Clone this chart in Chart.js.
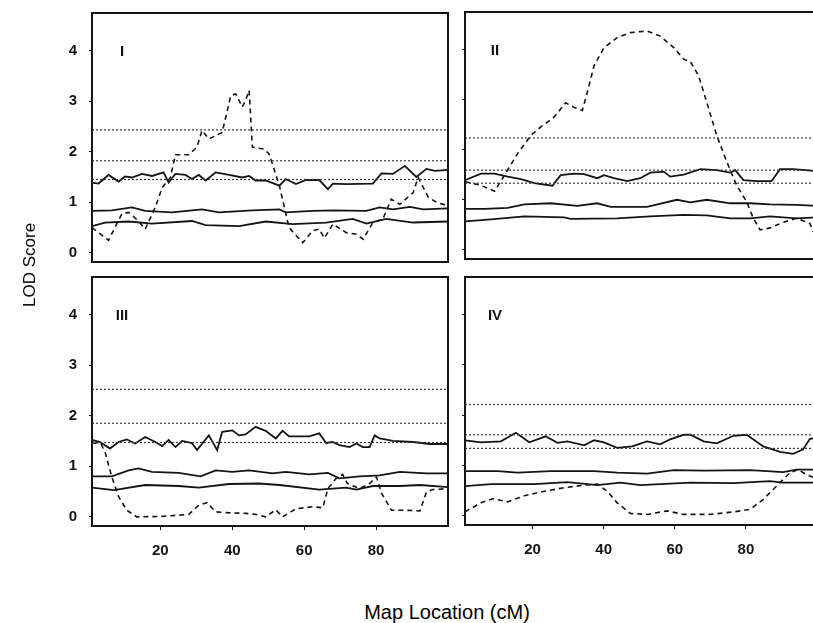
<!DOCTYPE html>
<html>
<head>
<script src="https://cdn.jsdelivr.net/npm/chart.js"></script>
<style>
  body { margin: 0; width: 813px; height: 623px; overflow: hidden; background: #fff; position: relative;
         font-family: "Liberation Sans", Arial, sans-serif; color: #000; }
  canvas { position: absolute; }
  #ytitle { position: absolute; left: 30px; top: 265px; transform: translate(-50%, -50%) rotate(-90deg);
            font-size: 17px; white-space: nowrap; }
  #xtitle { position: absolute; left: 447px; top: 612px; transform: translate(-50%, -50%);
            font-size: 20px; white-space: nowrap; }
</style>
</head>
<body>
<canvas id="p1" width="450" height="263" style="left:0;top:0"></canvas>
<canvas id="p2" width="360" height="263" style="left:459px;top:0"></canvas>
<canvas id="p3" width="450" height="295" style="left:0;top:265px"></canvas>
<canvas id="p4" width="360" height="295" style="left:459px;top:265px"></canvas>
<div id="ytitle">LOD Score</div>
<div id="xtitle">Map Location (cM)</div>

<script>
// tick labels
const yTicks = [0, 1, 2, 3, 4];
const xTicks = [20, 40, 60, 80];

// --- region I ---
const lodI = [[1,0.50],[5.6,0.25],[9.3,0.77],[11.2,0.80],[13.9,0.63],[15.8,0.47],[18.6,0.90],[20.5,1.29],[22.8,1.49],[24.2,1.94],[27.9,1.94],[30.2,2.09],[31.6,2.42],[33.5,2.25],[37.2,2.38],[39.6,3.11],[41.0,3.14],[42.8,2.88],[43.7,3.01],[44.7,3.21],[45.6,2.09],[48.9,2.05],[50.3,1.95],[53.1,1.33],[55.8,0.50],[59.6,0.20],[62.4,0.44],[64.2,0.47],[65.6,0.29],[68.0,0.57],[71.7,0.40],[74.5,0.37],[76.4,0.27],[79.1,0.60],[81.9,0.67],[84.2,1.06],[86.6,0.96],[90.3,1.19],[91.7,1.49],[94.5,1.10],[96.8,1.00],[100,0.93]];
const highI = [[1,1.39],[2.8,1.37],[5.6,1.54],[8.4,1.41],[10.2,1.51],[12.1,1.49],[14.9,1.56],[17.7,1.52],[20.9,1.59],[22.3,1.39],[24.2,1.56],[27.0,1.54],[28.8,1.46],[30.7,1.54],[32.6,1.43],[35.4,1.59],[39.1,1.54],[42.8,1.49],[44.7,1.52],[46.5,1.43],[49.3,1.43],[53.1,1.33],[54.9,1.46],[57.7,1.36],[60.5,1.44],[64.2,1.44],[66.6,1.26],[68.0,1.37],[71.7,1.36],[79.1,1.37],[81.5,1.57],[84.7,1.56],[88.0,1.72],[91.2,1.50],[94.0,1.66],[96.4,1.62],[100,1.64]];
const midI = [[1,0.83],[6.5,0.84],[12.1,0.90],[15.8,0.83],[23.3,0.80],[31.6,0.86],[36.3,0.80],[45.6,0.84],[53.1,0.86],[54.9,0.80],[62.4,0.83],[68,0.84],[77.3,0.83],[81,0.90],[84.7,0.86],[89.4,0.91],[93.1,0.86],[100,0.88]];
const lowI = [[1,0.53],[4.6,0.60],[11.2,0.62],[17.7,0.58],[28.8,0.63],[32.6,0.55],[41.9,0.53],[49.3,0.62],[56.8,0.57],[66.1,0.60],[73.5,0.67],[77.3,0.58],[82.8,0.67],[90.3,0.60],[100,0.62]];
const threshI = [2.43, 1.82, 1.45];

// --- region II ---
const lodII = [[1,1.36],[5.5,1.29],[9.3,1.17],[12.1,1.49],[15.8,1.92],[19.5,2.28],[22.3,2.45],[26.1,2.65],[29.3,2.93],[31.7,2.84],[34.0,2.78],[35.4,3.14],[37.3,3.67],[40.1,4.03],[43.8,4.23],[47.5,4.33],[52.2,4.36],[55.9,4.26],[59.7,4.03],[62.5,3.80],[64.4,3.75],[66.7,3.47],[69.0,2.94],[71.8,2.28],[74.6,1.76],[77.4,1.29],[80.2,0.96],[82.1,0.63],[84.0,0.40],[86.8,0.44],[90.5,0.55],[94.2,0.63],[98.0,0.53],[98.9,0.37],[100,0.30]];
const highII = [[1,1.39],[5.5,1.52],[9.3,1.52],[13.0,1.46],[16.7,1.41],[20.5,1.33],[25.6,1.28],[27.9,1.49],[31.7,1.52],[34.5,1.51],[38.2,1.43],[40.1,1.49],[42.9,1.43],[46.6,1.37],[50.3,1.43],[53.1,1.54],[56.9,1.56],[58.7,1.46],[62.5,1.50],[67.2,1.61],[71.8,1.59],[75.6,1.54],[77.0,1.59],[79.3,1.39],[83.0,1.37],[87.2,1.37],[89.6,1.61],[93.3,1.61],[100,1.57]];
const midII = [[1,0.82],[6.5,0.82],[13,0.84],[17.7,0.91],[25.1,0.93],[32.6,0.88],[38.2,0.93],[42,0.86],[52.2,0.86],[60.6,1.00],[64.4,0.95],[69.0,1.00],[75.6,0.93],[81.2,0.93],[86.8,0.91],[94.2,0.90],[100,0.88]];
const lowII = [[1,0.57],[8.3,0.61],[17.7,0.67],[28.9,0.65],[30.7,0.62],[43.8,0.63],[53.1,0.67],[62.5,0.70],[69,0.69],[75.6,0.63],[81.2,0.63],[86.8,0.67],[94.2,0.63],[100,0.65]];
const threshII = [2.23, 1.59, 1.33];

// --- region III ---
const lodIII = [[1.4,1.45],[3.2,1.48],[4.6,1.29],[6.5,0.79],[8.4,0.40],[10.7,0.13],[13.5,0.00],[20.5,0.01],[24.2,0.03],[27.9,0.05],[30.7,0.23],[33.0,0.28],[35.4,0.10],[39.1,0.08],[43.7,0.07],[46.5,0.05],[49.3,0.00],[52.1,0.14],[54.0,0.00],[57.7,0.16],[62.4,0.20],[65.2,0.18],[66.6,0.56],[68.9,0.76],[70.7,0.84],[72.0,0.66],[75.4,0.56],[78.2,0.66],[80.1,0.79],[81.5,0.47],[84.3,0.13],[88.5,0.13],[92.2,0.12],[94.0,0.49],[95.8,0.54],[100,0.56]];
const highIII = [[1,1.52],[3.2,1.48],[6.0,1.35],[8.4,1.48],[10.7,1.53],[13.0,1.45],[15.8,1.58],[18.6,1.48],[20.5,1.40],[22.3,1.52],[24.2,1.38],[26.1,1.50],[28.8,1.46],[30.2,1.32],[33.5,1.61],[35.8,1.32],[37.2,1.68],[40.0,1.71],[41.9,1.61],[43.7,1.63],[46.5,1.78],[49.3,1.70],[52.1,1.55],[54.0,1.70],[55.8,1.59],[61.4,1.59],[64.2,1.65],[66.1,1.46],[67.9,1.48],[69.8,1.42],[72.6,1.38],[74.5,1.45],[76.3,1.38],[78.2,1.38],[79.6,1.61],[81.0,1.55],[84.7,1.50],[90.3,1.48],[95.0,1.44],[100,1.44]];
const midIII = [[1,0.80],[6.5,0.80],[11.2,0.92],[13.9,0.96],[17.7,0.89],[25.1,0.87],[31.2,0.80],[35.4,0.92],[40.0,0.89],[44.7,0.92],[51.2,0.86],[54.9,0.89],[61.4,0.84],[66.6,0.87],[69.8,0.76],[75.4,0.80],[81.0,0.82],[86.6,0.89],[94.0,0.86],[100,0.86]];
const lowIII = [[1,0.58],[7.1,0.53],[15.8,0.63],[25.1,0.61],[30.7,0.58],[39.1,0.65],[47.5,0.66],[53.1,0.63],[64.2,0.54],[71.7,0.58],[74.5,0.54],[79.1,0.61],[86.6,0.61],[92.2,0.63],[100,0.59]];
const threshIII = [2.52, 1.85, 1.47];

// --- region IV ---
const lodIV = [[1,0.08],[5.5,0.26],[8.8,0.34],[13.0,0.28],[17.7,0.40],[23.3,0.49],[28.9,0.56],[34.5,0.61],[38.2,0.63],[41.0,0.49],[43.8,0.26],[47.5,0.05],[52.2,0.03],[57.8,0.10],[62.5,0.03],[70.0,0.03],[76.5,0.08],[81.2,0.13],[84.9,0.33],[88.6,0.59],[92.4,0.86],[94.7,0.92],[97.0,0.82],[100,0.74]];
const highIV = [[1,1.50],[5.5,1.46],[11.1,1.48],[15.3,1.65],[19.1,1.46],[23.7,1.58],[27.0,1.45],[29.8,1.48],[34.5,1.40],[37.3,1.50],[40.1,1.46],[43.8,1.35],[48.0,1.38],[52.2,1.48],[55.9,1.42],[58.7,1.52],[62.5,1.61],[64.4,1.61],[68.1,1.48],[71.8,1.44],[76.5,1.59],[80.2,1.61],[84.9,1.38],[89.6,1.27],[93.3,1.23],[96.1,1.32],[98.0,1.53],[100,1.55]];
const midIV = [[1,0.89],[10.2,0.89],[15.8,0.86],[25.1,0.89],[37.3,0.89],[43.8,0.86],[52.2,0.84],[59.7,0.91],[68.1,0.90],[81.2,0.91],[90.5,0.87],[94.2,0.92],[100,0.92]];
const lowIV = [[1,0.59],[8.3,0.63],[20.5,0.63],[29.8,0.67],[38.2,0.61],[44.7,0.66],[50.3,0.61],[55.9,0.63],[64.4,0.66],[76.5,0.65],[86.8,0.69],[90.5,0.66],[100,0.66]];
const threshIV = [2.21, 1.61, 1.34];

const ink = '#141414';
const font = { family: '"Liberation Sans", Arial, sans-serif', size: 15, weight: 'bold' };

const toPts = arr => arr.map(p => ({ x: p[0], y: p[1] }));

function datasetsFor(lod, high, mid, low, thresh) {
  const ds = [];
  thresh.forEach(v => ds.push({
    data: [{ x: 1, y: v }, { x: 100, y: v }],
    borderColor: '#3a3a3a', borderWidth: 1.2, borderDash: [2, 2]
  }));
  [high, mid, low].forEach(s => ds.push({ data: toPts(s), borderColor: ink, borderWidth: 1.8 }));
  ds.push({ data: toPts(lod), borderColor: ink, borderWidth: 1.6, borderDash: [5, 4] });
  return ds;
}

// frame around each panel plus its roman numeral
const frame = {
  id: 'frame',
  afterDraw(chart, args, opts) {
    const a = chart.chartArea, ctx = chart.ctx;
    ctx.save();
    ctx.strokeStyle = ink;
    ctx.lineWidth = 2;
    ctx.strokeRect(a.left, a.top, a.right - a.left, a.bottom - a.top);
    ctx.fillStyle = ink;
    ctx.font = 'bold 15px "Liberation Sans", Arial, sans-serif';
    ctx.textAlign = 'center';
    ctx.textBaseline = 'middle';
    ctx.fillText(opts.label, a.left + 30, a.top + 39);
    ctx.restore();
  }
};

function noPad(s) {
  s.paddingTop = 0; s.paddingBottom = 0; s.paddingLeft = 0; s.paddingRight = 0;
}

function makePanel(id, label, data, leftAxis, bottomAxis, pad) {
  new Chart(document.getElementById(id), {
    type: 'line',
    data: { datasets: data },
    plugins: [frame],
    options: {
      responsive: false,
      animation: false,
      devicePixelRatio: 1,
      layout: { padding: pad },
      elements: { point: { radius: 0 }, line: { tension: 0 } },
      plugins: { legend: { display: false }, tooltip: { enabled: false }, frame: { label: label } },
      scales: {
        x: {
          type: 'linear', min: 1, max: 100,
          display: bottomAxis,
          afterBuildTicks: s => { s.ticks = xTicks.map(v => ({ value: v })); },
          afterFit: s => { s.height = bottomAxis ? 34 : 0; noPad(s); },
          grid: { drawOnChartArea: false, drawTicks: true, tickLength: 4, color: ink },
          border: { display: false },
          ticks: { color: ink, font: font, padding: 12, maxRotation: 0 }
        },
        y: {
          min: -0.18, max: 4.74,
          afterBuildTicks: s => { s.ticks = yTicks.map(v => ({ value: v })); },
          afterFit: s => { s.width = leftAxis ? 92 : 6; noPad(s); },
          grid: { drawOnChartArea: false, drawTicks: true, tickLength: 3, color: ink },
          border: { display: false },
          ticks: { display: leftAxis, color: ink, font: font, padding: 12 }
        }
      }
    }
  });
}

makePanel('p1', 'I', datasetsFor(lodI, highI, midI, lowI, threshI), true, false,
  { top: 13, right: 2, bottom: 1, left: 0 });
makePanel('p2', 'II', datasetsFor(lodII, highII, midII, lowII, threshII), false, false,
  { top: 12, right: 2, bottom: 4, left: 0 });
makePanel('p3', 'III', datasetsFor(lodIII, highIII, midIII, lowIII, threshIII), true, true,
  { top: 12, right: 2, bottom: 0, left: 0 });
makePanel('p4', 'IV', datasetsFor(lodIV, highIV, midIV, lowIV, threshIV), false, true,
  { top: 12, right: 2, bottom: 1, left: 0 });
</script>
</body>
</html>
